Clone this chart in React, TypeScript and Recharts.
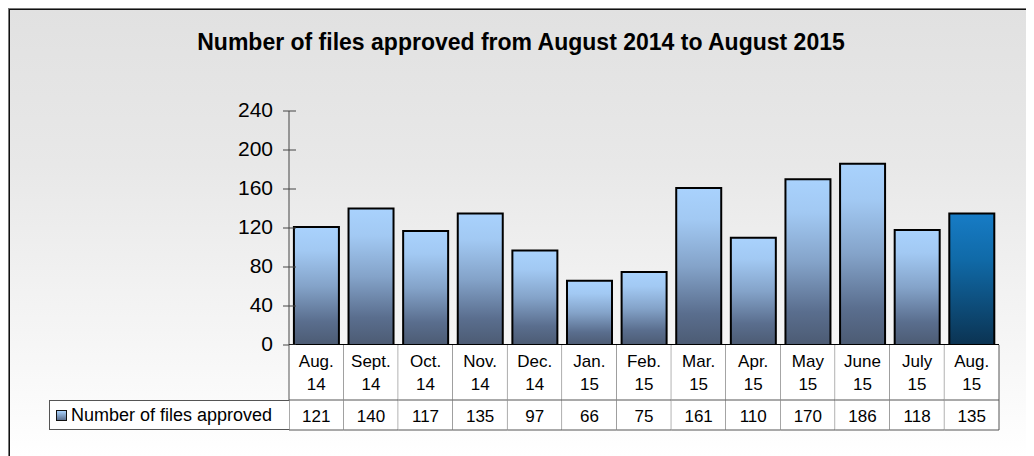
import React from "react";
import { BarChart, Bar, XAxis, YAxis, Cell } from "recharts";

const months = ["Aug.", "Sept.", "Oct.", "Nov.", "Dec.", "Jan.", "Feb.", "Mar.", "Apr.", "May", "June", "July", "Aug."];
const years = ["14", "14", "14", "14", "14", "15", "15", "15", "15", "15", "15", "15", "15"];
const approved = [121, 140, 117, 135, 97, 66, 75, 161, 110, 170, 186, 118, 135];
const yTicks = [0, 40, 80, 120, 160, 200, 240];
const seriesName = "Number of files approved";
const title = "Number of files approved from August 2014 to August 2015";

const data = months.map((m, i) => ({ key: m + " " + years[i] + "#" + i, month: m, year: years[i], value: approved[i] }));

const W = 1026;
const H = 448;
const M = { top: 103, right: 35, left: 0, bottom: 26 };
const YW = 281;
const XH = 85;
const FONT = "'Liberation Sans', Arial, sans-serif";
const colW = (W - M.right - M.left - YW) / months.length;

const XTick = (props: any) => {
  const { x, y, payload, index } = props;
  const d = data[index];
  const l = x - colW / 2;
  const r = x + colW / 2;
  return (
    <g>
      <rect x={l} y={y} width={colW} height={XH} fill="#ffffff" stroke="none" />
      <line x1={r} y1={y} x2={r} y2={y + XH} stroke="#555" strokeWidth={1} />
      {index === 0 && <line x1={l} y1={y} x2={l} y2={y + XH} stroke="#555" strokeWidth={1} />}
      <line x1={l} y1={y + 55} x2={r} y2={y + 55} stroke="#555" strokeWidth={1} />
      <line x1={l} y1={y + 85} x2={r} y2={y + 85} stroke="#555" strokeWidth={1} />
      <text x={x} y={y + 22} textAnchor="middle" fontSize={17} fontFamily={FONT} fill="#000">{d ? d.month : payload.value}</text>
      <text x={x} y={y + 45} textAnchor="middle" fontSize={17} fontFamily={FONT} fill="#000">{d ? d.year : ""}</text>
      <text x={x} y={y + 77} textAnchor="middle" fontSize={17} fontFamily={FONT} fill="#000">{d ? d.value : ""}</text>
    </g>
  );
};

const YTick = (props: any) => {
  const { x, y, payload } = props;
  return (
    <g>
      <line x1={x + 10} y1={y} x2={x + 23} y2={y} stroke="#444" strokeWidth={1} />
      <text x={x} y={y} dy={6} textAnchor="end" fontSize={21} fontFamily={FONT} fill="#000">{payload.value}</text>
    </g>
  );
};

export default function App() {
  return (
    <div style={{ position: "relative", width: W, height: H, background: "linear-gradient(#e1e1e1 0%, #e8e8e8 35%, #f6f6f6 75%, #ffffff 100%)", fontFamily: FONT, overflow: "hidden" }}>
      <div style={{ position: "absolute", left: 0, top: 0, width: W, height: 1, background: "#777" }} />
      <div style={{ position: "absolute", left: 1, top: 1, width: W, height: 1, background: "#111" }} />
      <div style={{ position: "absolute", left: 0, top: 0, width: 1, height: H, background: "#777" }} />
      <div style={{ position: "absolute", left: 1, top: 1, width: 1, height: H, background: "#111" }} />
      <div style={{ position: "absolute", left: 0, top: 21, width: W, textAlign: "center", fontWeight: "bold", fontSize: 23, color: "#000" }}>{title}</div>
      <div style={{ position: "absolute", left: 0, top: 0 }}>
        <BarChart width={W} height={H} data={data} margin={M} barCategoryGap="9%">
          <defs>
            <linearGradient id="gBlue" x1="0" y1="0" x2="0" y2="1">
              <stop offset="0%" stopColor="#a9d2fd" />
              <stop offset="20%" stopColor="#a2c9f3" />
              <stop offset="50%" stopColor="#84a3c9" />
              <stop offset="80%" stopColor="#5a6e8e" />
              <stop offset="100%" stopColor="#4c5b73" />
            </linearGradient>
            <linearGradient id="gDark" x1="0" y1="0" x2="0" y2="1">
              <stop offset="0%" stopColor="#177cc6" />
              <stop offset="35%" stopColor="#106aa8" />
              <stop offset="100%" stopColor="#0b3352" />
            </linearGradient>
          </defs>
          <YAxis
            width={YW}
            domain={[0, 240]}
            ticks={yTicks}
            interval={0}
            axisLine={{ stroke: "#444", strokeWidth: 1 }}
            tickLine={false}
            tickSize={6}
            tickMargin={10}
            tick={<YTick />}
          />
          <XAxis
            dataKey="key"
            height={XH}
            interval={0}
            axisLine={{ stroke: "#000", strokeWidth: 2 }}
            tickLine={false}
            tickSize={0}
            tickMargin={0}
            tick={<XTick />}
          />
          <Bar dataKey="value" name={seriesName} stroke="#000" strokeWidth={2} isAnimationActive={false}>
            {data.map((d, i) => (
              <Cell key={d.key} fill={i === data.length - 1 ? "url(#gDark)" : "url(#gBlue)"} />
            ))}
          </Bar>
        </BarChart>
      </div>
      <div style={{ position: "absolute", left: 41, top: 392, width: 240, height: 30, boxSizing: "border-box", border: "1px solid #555", borderRight: "none", background: "#fff", display: "flex", alignItems: "center" }}>
        <div style={{ width: 9, height: 9, marginLeft: 6, marginRight: 4, border: "1.5px solid #111", background: "linear-gradient(#a9d2fd, #5a6e8e)" }} />
        <span style={{ fontSize: 18, color: "#000", whiteSpace: "nowrap" }}>{seriesName}</span>
      </div>
    </div>
  );
}
